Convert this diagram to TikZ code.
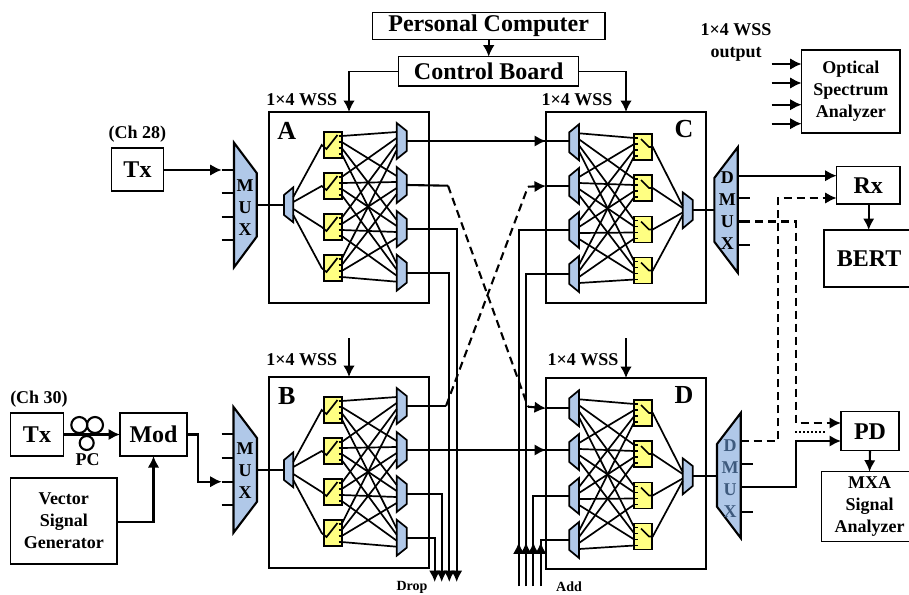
\documentclass[tikz,border=0pt]{standalone}
\usepackage{fontspec}
\setmainfont{Liberation Serif}
\usetikzlibrary{arrows.meta,calc}

\begin{document}
\begin{tikzpicture}[x=1pt, y=-1pt, font=\bfseries]

% ---- Define Styles ----
\tikzset{
  box/.style={
    draw=black, line width=1.5pt, outer sep=0pt, inner sep=0pt, align=center, fill=white
  },
  wssbox/.style={box, line width=2.1pt, minimum width=160pt, minimum height=191pt, fill=none},
  switchbox/.style={box, line width=1.8pt, fill=switchyellow, minimum width=17.4pt, minimum height=26pt},
  small/.style={font=\bfseries\fontsize{14}{14}\selectfont, inner sep=0pt},
  medium/.style={font=\bfseries\fontsize{18}{22}\selectfont},
  big/.style={font=\bfseries\fontsize{24}{24}\selectfont},
  link/.style={draw=black, line width=2.1pt},
  thin link/.style={draw=black, line width=1.7pt},
  tip/.style={link, -{Latex[length=11.5pt,width=11.5pt]}},
  dash link/.style={link, dash pattern=on 8pt off 5pt},
  muxshape/.style={draw=black, line width=2.1pt, fill=muxblue, line join=miter},
  smallmux/.style={draw=black, line width=1.7pt, fill=muxblue, line join=miter},
  muxtext/.style={font=\bfseries\fontsize{18}{22}\selectfont, align=center, inner sep=0pt}
}
\definecolor{muxblue}{RGB}{176,200,232}
\definecolor{switchyellow}{RGB}{255,255,130}
\definecolor{dimtext}{RGB}{62,90,125}

\useasboundingbox (0,0) rectangle (909,594);

% =========================================================
% WSS with switches on the input side (A, B)
% =========================================================
\newcommand{\wssleft}[3]{
  \begin{scope}[shift={(0,#3)}]
    \node[wssbox] (#1) at (349,207.5) {};
    \node[big, font=\bfseries\fontsize{26}{26}\selectfont, inner sep=0pt] (#1-tag) at (286.7,130.7) {#2};
    \draw[smallmux] (284,195) -- (293.3,187.3) -- (293.3,222.3) -- (284,215) -- cycle;
    \coordinate (#1-in) at (284,205);
    % outputs
    \foreach \j/\oy in {1/141,2/185,3/229,4/272.7} {
      \draw[smallmux] (396.7,\oy-18) -- (406.7,\oy-10) -- (406.7,\oy+10) -- (396.7,\oy+18) -- cycle;
      \coordinate (#1-o\j) at (406.7,\oy);
    }
    % switches and the splitter fan
    \foreach \i/\sy/\py in {1/145/197,2/186/202,3/227/209,4/268/215} {
      \node[switchbox] (#1-s\i) at (333,\sy) {};
      \draw[thin link] (293.3,\py) -- (321.7,\sy) -- (326.5,\sy+4) -- (337.5,\sy-10);
      \foreach \p in {-9,-3,3,9}
        \draw[line width=1.2pt] (338.5,\sy+\p) -- (#1-s\i.east |- 0,\sy+\p);
    }
    % mesh
    \foreach \i/\sy/\oy in {1/145/141,2/186/185,3/227/229,4/268/272.7}
      \foreach \j/\sp/\oj in {1/-9/141,2/-3/185,3/3/229,4/9/272.7}
        \draw[thin link] (341.7,\sy+\sp) -- (396.7,\oj-15+\i*6);
  \end{scope}
}

% =========================================================
% WSS with switches on the output side (C, D)
% =========================================================
\newcommand{\wssright}[3]{
  \begin{scope}[shift={(0,#3)}]
    \node[wssbox] (#1) at (626,207.5) {};
    \node[big, font=\bfseries\fontsize{26}{26}\selectfont, inner sep=0pt] (#1-tag) at (684,129.5) {#2};
    \draw[smallmux] (682.7,192.3) -- (692.7,200) -- (692.7,220) -- (682.7,228.3) -- cycle;
    \coordinate (#1-out) at (692.7,210);
    % inputs
    \foreach \j/\iy in {1/142.3,2/186,3/230,4/274} {
      \draw[smallmux] (569.3,\iy-10) -- (579,\iy-18) -- (579,\iy+18) -- (569.3,\iy+10) -- cycle;
      \coordinate (#1-i\j) at (569.3,\iy);
    }
    % switches and the combiner fan
    \foreach \i/\sy/\py in {1/147/206,2/188/208,3/229.5/212.5,4/270.5/215} {
      \node[switchbox] (#1-s\i) at (643,\sy) {};
      \draw[thin link] (682.7,\py) -- (652.7,\sy) -- (649,\sy) -- (641,\sy-8);
      \foreach \p in {-9,-3,3,9}
        \draw[line width=1.2pt] (637.5,\sy+\p) -- (#1-s\i.west |- 0,\sy+\p);
    }
    % mesh
    \foreach \i/\sy/\oy in {1/147/142.3,2/188/186,3/229.5/230,4/270.5/274}
      \foreach \j/\sp/\oj in {1/-9/142.3,2/-3/186,3/3/230,4/9/274}
        \draw[thin link] (634.3,\sy+\sp) -- (579,\oj-15+\i*6);
  \end{scope}
}

% =========================================================
% CONTROL
% =========================================================
\node[box, big, minimum width=232.7pt, minimum height=27pt] (pc) at (488.7,25.8) {Personal Computer};
\node[box, big, minimum width=180pt, minimum height=29.3pt] (board) at (488.7,71.3) {Control Board};
\draw[tip, line width=1.6pt] (pc.south) -- (board.north);

% =========================================================
% WSS UNITS
% =========================================================
\wssleft{a}{A}{0}
\wssleft{b}{B}{265}
\wssright{c}{C}{0}
\wssright{d}{D}{266}

\node[medium, inner sep=0pt] (lbl-a) at (301.7,100) {1×4 WSS};
\node[medium, inner sep=0pt] (lbl-c) at (577,100) {1×4 WSS};
\node[medium, inner sep=0pt] (lbl-b) at (301.7,360) {1×4 WSS};
\node[medium, inner sep=0pt] (lbl-d) at (583,360) {1×4 WSS};

\draw[tip, line width=1.6pt] (board.west) -| (a.north);
\draw[tip, line width=1.6pt] (board.east) -| (c.north);
\coordinate (ctl-b) at (349,338);
\coordinate (ctl-d) at (626,338);
\draw[tip, line width=1.6pt] (ctl-b) -- (b.north);
\draw[tip, line width=1.6pt] (ctl-d) -- (d.north);

% =========================================================
% LEFT SIDE: Transmitters and multiplexers
% =========================================================
\node[box, big, minimum width=51.6pt, minimum height=43.3pt] (txa) at (137.5,169.4) {Tx};
\node[medium, inner sep=0pt] (cha) at (137.3,134) {(Ch 28)};

\node[box, big, minimum width=52.6pt, minimum height=43pt] (txb) at (37,434.5) {Tx};
\node[medium, inner sep=0pt] (chb) at (39,399) {(Ch 30)};
\node[box, big, minimum width=67pt, minimum height=43pt] (mod) at (153.5,434.5) {Mod};
\node[box, medium, minimum width=106.3pt, minimum height=86pt] (vsg) at (63.8,521) {Vector\\Signal\\Generator};
\node[medium, inner sep=0pt] (pclbl) at (87.7,460) {PC};

% MUX A
\draw[muxshape] (234,142.7) -- (256.7,173) -- (256.7,236.7) -- (234,267.3) -- cycle;
\node[muxtext] (muxa) at (245,207.3) {M\\U\\X};
\foreach \i/\y in {1/170,2/193.3,3/216.7,4/240} {
  \coordinate (muxa-i\i) at (221.7,\y);
  \draw[link] (muxa-i\i) -- (234,\y);
}
\coordinate (muxa-o) at (256.7,205);
\draw[link] (muxa-o) -- (a-in);

% MUX B
\draw[muxshape] (233.5,407) -- (257,438) -- (257,501.7) -- (233.5,532.7) -- cycle;
\node[muxtext] (muxb) at (245,470.7) {M\\U\\X};
\foreach \i/\y in {1/434,2/458,3/481.7,4/505} {
  \coordinate (muxb-i\i) at (221.7,\y);
  \draw[link] (muxb-i\i) -- (233.5,\y);
}
\coordinate (muxb-o) at (257,470);
\draw[link] (muxb-o) -- (b-in);

\draw[tip] (txa.east |- muxa-i1) -- (muxa-i1);
\draw[tip] (txb.east) -- (mod.west);
\draw[tip] (vsg.east |- 0,521.7) -| (mod.south);
\draw[tip] (mod.east) -| (198,481.7) -- (muxb-i3);

% polarization controller
\draw[link] (79.3,425) circle (8pt) (95,425) circle (8pt) (86.7,443) circle (7pt);

% =========================================================
% CENTRE: Links between the WSS units
% =========================================================
\coordinate (cross-a) at (448,185.7);
\coordinate (cross-d) at (528,406.7);
\coordinate (cross-b) at (446,406);
\coordinate (cross-c) at (528,186.7);

\draw[link] (a-o1) -- (a-o1 -| c-i1);
\draw[tip] (a-o1) -- (c.west |- a-o1);
\draw[link] (b-o2) -- (b-o2 -| d-i2);
\draw[tip] (b-o2) -- (d.west |- b-o2);

\draw[link] (a-o2) -- (cross-a);
\draw[dash link] (cross-a) -- (cross-d);
\draw[tip] (cross-d) -- (d.west |- d-i1);
\draw[link] (d.west |- d-i1) -- (d-i1);

\draw[link] (b-o1) -- (cross-b);
\draw[dash link] (cross-b) -- (cross-c);
\draw[tip] (cross-c) -- (c.west |- c-i2);
\draw[link] (c.west |- c-i2) -- (c-i2);

% ---- Drop ----
\foreach \i/\x in {1/456.7,2/449.3,3/441.7,4/434.7}
  \coordinate (drop\i) at (\x,582);
\draw[tip] (a-o3) -| (drop1);
\draw[tip] (a-o4) -| (drop2);
\draw[tip] (b-o3) -| (drop3);
\draw[tip] (b-o4) -| (drop4);
\node[small] (droplbl) at (412,587) {Drop};

% ---- Add ----
\foreach \i/\x in {1/518.7,2/526,3/533.3,4/540.7} {
  \coordinate (add\i) at (\x,586);
  \coordinate (addtip\i) at (\x,542.3);
  \draw[tip] (add\i) -- (addtip\i);
}
\draw[link] (add1) |- (c-i3);
\draw[link] (add2) |- (c-i4);
\draw[link] (add3) |- (d-i3);
\draw[link] (add4) |- (d-i4);
\node[small] (addlbl) at (569,587) {Add};

% =========================================================
% RIGHT SIDE: Demultiplexers and receivers
% =========================================================
% DMUX C
\draw[muxshape] (714.3,178) -- (737.7,147.3) -- (737.7,272.7) -- (714.3,241.7) -- cycle;
\node[muxtext, font=\bfseries\fontsize{18}{22.3}\selectfont] (dmuxc) at (727.3,210.6) {D\\M\\U\\X};
\foreach \i/\y in {1/175.7,2/198.3,3/221.5,4/245.3} {
  \coordinate (dmuxc-o\i) at (737.7,\y);
}
\foreach \i in {2,3,4}
  \draw[link] (dmuxc-o\i) -- ++(12.3,0);
\draw[link] (c-out) -- (714.3,210);

% DMUX D
\draw[muxshape] (717,444) -- (740.7,413) -- (740.7,538) -- (717,506.7) -- cycle;
\node[muxtext, text=dimtext, font=\bfseries\fontsize{18}{22}\selectfont] (dmuxd) at (730,478.3) {D\\M\\U\\X};
\foreach \i/\y in {1/441,2/464,3/487,4/511.7} {
  \coordinate (dmuxd-o\i) at (740.7,\y);
}
\foreach \i in {2,4}
  \draw[link] (dmuxd-o\i) -- ++(12.3,0);
\draw[link] (d-out) -- (717,476);

\node[box, big, minimum width=63.3pt, minimum height=37.3pt] (rx) at (868.3,185.3) {Rx};
\node[box, big, minimum width=90pt, minimum height=57pt] (bert) at (869,258.5) {BERT};
\draw[tip] (rx.south -| 868.7,0) -- (bert.north -| 868.7,0);

\node[box, big, minimum width=58pt, minimum height=39pt] (pd) at (870,431.2) {PD};
\node[box, medium, minimum width=95.6pt, minimum height=70pt] (mxa) at (869.5,506.7) {MXA\\Signal\\Analyzer};
\draw[tip] (pd.south) -- (mxa.north);

\node[box, medium, minimum width=98.3pt, minimum height=83pt] (osa) at (850.8,91.5) {Optical\\Spectrum\\Analyzer};
\node[medium, inner sep=0pt, align=center] (osalbl) at (736,42) {1×4 WSS\\output};
\foreach \i/\y in {1/64,2/83,3/104.7,4/123.7} {
  \coordinate (osa-i\i) at (771.7,\y);
  \draw[tip] (osa-i\i) -- (osa.west |- osa-i\i);
}

% ---- Signal routes to the receivers ----
\coordinate (dash-c) at (796,221.5);
\coordinate (dash-d) at (778,441);
\coordinate (dot-start) at (795,432);
\coordinate (dot-end) at (825,432);

\draw[tip] (dmuxc-o1) -- (rx.west |- dmuxc-o1);
\draw[dash link, -{Latex[length=11.5pt,width=11.5pt]}] (dmuxd-o1) -- (dash-d) |- (rx.west |- 0,198);
\draw[dash link, -{Latex[length=11.5pt,width=11.5pt]}] (755,221.5) -- (dash-c) |- (pd.west |- 0,423);
\draw[link, dash pattern=on 1.8pt off 2.2pt] (dot-start) -- (dot-end);
\draw[tip] (dmuxd-o3) -| (796,441) -- (pd.west |- 0,441);

\end{tikzpicture}
\end{document}
